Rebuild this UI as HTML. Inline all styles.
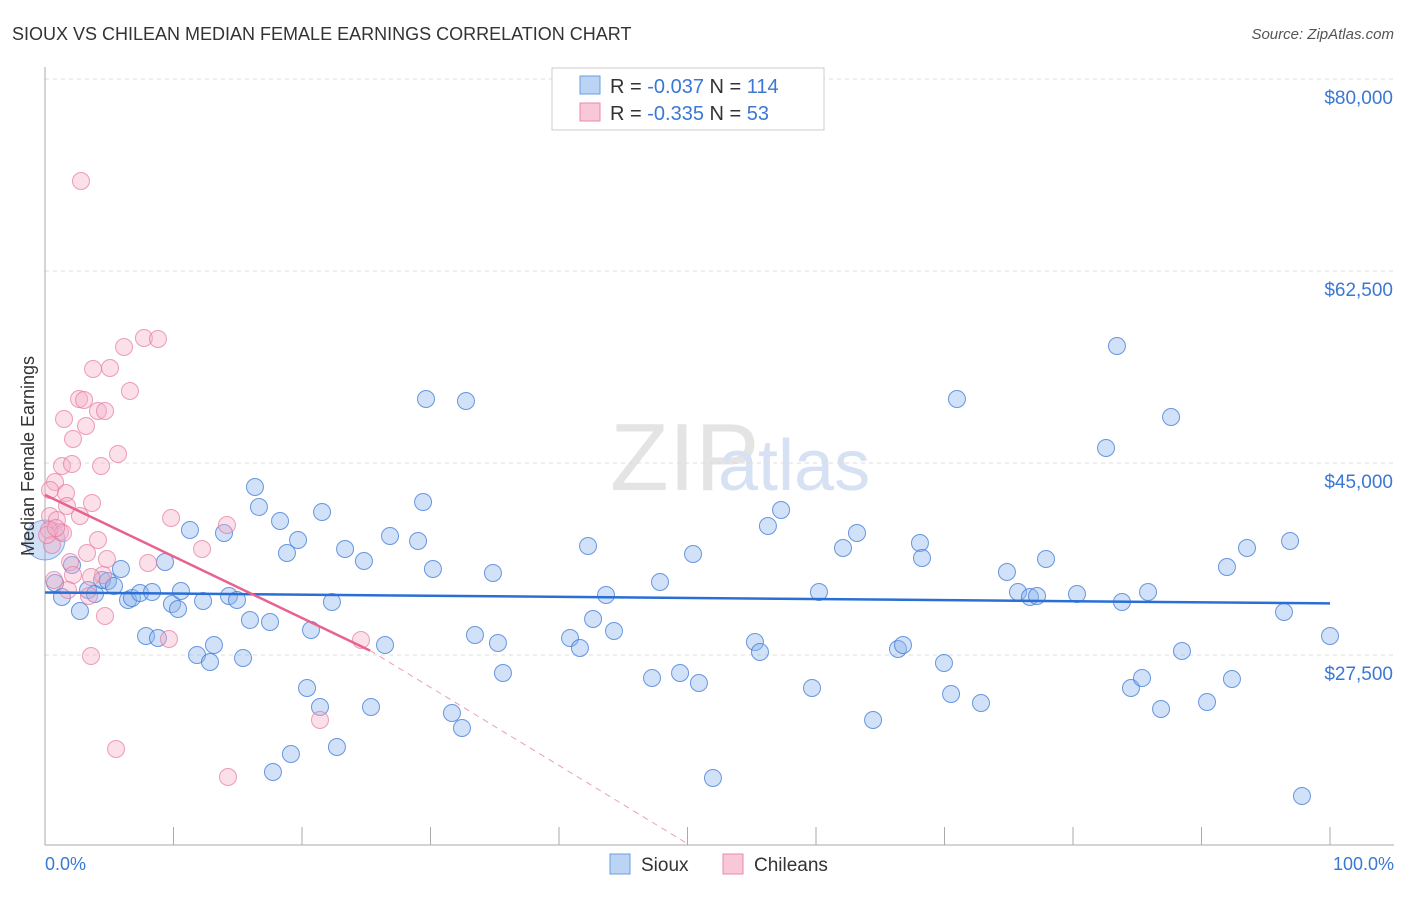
<!DOCTYPE html>
<html><head><meta charset="utf-8"><style>
body{margin:0;background:#fff;font-family:"Liberation Sans",sans-serif}
svg text{font-family:"Liberation Sans",sans-serif}
</style></head><body>
<svg id="chart" width="1406" height="892" xmlns="http://www.w3.org/2000/svg">
<text x="12" y="40" font-size="18" fill="#333">SIOUX VS CHILEAN MEDIAN FEMALE EARNINGS CORRELATION CHART</text>
<text x="1394" y="39" font-size="15" fill="#555" text-anchor="end" font-style="italic">Source: ZipAtlas.com</text>
<text x="610" y="490" font-size="96" fill="#e4e4e4" font-family="Liberation Serif">ZIP</text>
<text x="718" y="490" font-size="72" fill="#d6e2f3">atlas</text>
<g id="grid"></g>
<g id="axes"></g>
<g id="pts"></g>
<g id="lines"></g>
<text transform="translate(34,456) rotate(-90)" font-size="18" fill="#333" text-anchor="middle">Median Female Earnings</text>
<text x="45" y="870" font-size="18" fill="#3a78d4">0.0%</text>
<text x="1394" y="870" font-size="18" fill="#3a78d4" text-anchor="end">100.0%</text>
<g>
<rect x="552" y="68" width="272" height="62" fill="#fff" stroke="#ccc"/>
<rect x="580" y="76" width="20" height="18" fill="#bcd4f4" stroke="#6a9be0"/>
<rect x="580" y="103" width="20" height="18" fill="#f9c8d8" stroke="#e88aa8"/>
<text x="610" y="93" font-size="20" fill="#333">R = <tspan fill="#3a78d4">-0.037</tspan>   N = <tspan fill="#3a78d4">114</tspan></text>
<text x="610" y="120" font-size="20" fill="#333">R = <tspan fill="#3a78d4">-0.335</tspan>   N =  <tspan fill="#3a78d4">53</tspan></text>
</g>
<g>
<rect x="610" y="854" width="20" height="20" fill="#bcd4f4" stroke="#6a9be0"/>
<text x="641" y="871" font-size="19" fill="#333">Sioux</text>
<rect x="723" y="854" width="20" height="20" fill="#f9c8d8" stroke="#e88aa8"/>
<text x="754" y="871" font-size="19" fill="#333">Chileans</text>
</g>
</svg>
<script>
const yTicks=[80000,62500,45000,27500];
const yTickLabels=["$80,000","$62,500","$45,000","$27,500"];
const xTicks=[0,10,20,30,40,50,60,70,80,90,100];
const siouxPx=[[55,583],[62,597],[72,565],[80,611],[88,590],[95,594],[102,580],[108,581],[114,586],[121,569],[128,600],[132,598],[140,593],[146,636],[152,592],[158,638],[165,562],[172,604],[178,609],[181,591],[190,530],[197,655],[203,601],[210,662],[214,645],[224,533],[229,596],[237,600],[243,658],[250,620],[255,487],[259,507],[270,622],[273,772],[280,521],[287,553],[291,754],[298,540],[307,688],[311,630],[320,707],[322,512],[332,602],[337,747],[345,549],[364,561],[371,707],[385,645],[390,536],[418,541],[423,502],[426,399],[433,569],[452,713],[462,728],[466,401],[475,635],[493,573],[498,643],[503,673],[570,638],[580,648],[588,546],[593,619],[606,595],[614,631],[652,678],[660,582],[680,673],[693,554],[699,683],[713,778],[755,642],[760,652],[768,526],[781,510],[812,688],[819,592],[843,548],[857,533],[873,720],[898,649],[903,645],[920,543],[922,558],[944,663],[951,694],[957,399],[981,703],[1007,572],[1018,592],[1030,597],[1037,596],[1046,559],[1077,594],[1106,448],[1117,346],[1122,602],[1131,688],[1142,678],[1148,592],[1161,709],[1171,417],[1182,651],[1207,702],[1227,567],[1232,679],[1247,548],[1284,612],[1290,541],[1302,796],[1330,636]];
const chileanPx=[[81,181],[144,338],[158,339],[124,347],[93,369],[110,368],[130,391],[79,399],[84,400],[98,411],[105,411],[64,419],[86,426],[73,439],[118,454],[62,466],[72,464],[101,466],[55,482],[66,493],[50,490],[92,503],[67,506],[80,516],[50,516],[57,520],[60,532],[63,533],[49,530],[52,545],[171,518],[227,525],[98,540],[202,549],[87,553],[107,559],[148,563],[70,562],[73,575],[103,575],[91,577],[54,580],[68,590],[89,596],[105,616],[169,639],[361,640],[91,656],[320,720],[116,749],[228,777],[47,535],[56,528]];
// convert read positions to data values (percent, dollars)
const toVal=p=>[+(((p[0]-45)/12.85).toFixed(2)),Math.round(80000-(p[1]-79)*17500/192)];
const siouxX=siouxPx.map(p=>toVal(p)[0]), siouxY=siouxPx.map(p=>toVal(p)[1]);
const chileX=chileanPx.map(p=>toVal(p)[0]), chileY=chileanPx.map(p=>toVal(p)[1]);
const siouxTrend=[[0,33200],[100,32200]];
const chileTrend=[[0,42100],[25.3,27900],[50,10300]];
const sx=v=>45+v*12.85, sy=v=>79+(80000-v)*192/17500;
const NS="http://www.w3.org/2000/svg";
function mk(tag,at,parent){const e=document.createElementNS(NS,tag);for(const k in at)e.setAttribute(k,at[k]);parent.appendChild(e);return e;}
const grid=document.getElementById('grid'),axes=document.getElementById('axes'),pts=document.getElementById('pts'),lines=document.getElementById('lines');
yTicks.forEach((t,i)=>{
 const g=mk('line',{x1:45,x2:1394,y1:sy(t),y2:sy(t),stroke:'#ddd','stroke-dasharray':'4,4'},grid);
 
 
 const tx=mk('text',{x:1393,y:sy(t)+25,'font-size':19,fill:'#3a78d4','text-anchor':'end'},grid);
 tx.textContent=yTickLabels[i];
 
 
});
const ya=mk('line',{x1:45,x2:45,y1:67,y2:845,stroke:'#aaa'},axes);


const xa=mk('line',{x1:45,x2:1394,y1:845,y2:845,stroke:'#aaa'},axes);


xTicks.forEach(t=>{const l=mk('line',{x1:sx(t),x2:sx(t),y1:827,y2:845,stroke:'#aaa'},axes);
 
 });
const big=mk('circle',{cx:45,cy:540,r:20,fill:'rgba(120,165,230,0.35)',stroke:'rgba(70,130,220,0.6)'},pts);


siouxX.forEach((x,i)=>{const c=mk('circle',{cx:sx(x),cy:sy(siouxY[i]),r:8.5,fill:'rgba(140,180,235,0.4)',stroke:'rgba(60,120,215,0.75)','stroke-width':1},pts);
 
 });
chileX.forEach((x,i)=>{const c=mk('circle',{cx:sx(x),cy:sy(chileY[i]),r:8.5,fill:'rgba(245,175,200,0.4)',stroke:'rgba(230,120,160,0.7)','stroke-width':1},pts);
 
 });
const bl=mk('line',{x1:sx(siouxTrend[0][0]),y1:sy(siouxTrend[0][1]),x2:sx(siouxTrend[1][0]),y2:sy(siouxTrend[1][1]),stroke:'#2a6fd6','stroke-width':2.5},lines);


const pl=mk('line',{x1:sx(chileTrend[0][0]),y1:sy(chileTrend[0][1]),x2:sx(chileTrend[1][0]),y2:sy(chileTrend[1][1]),stroke:'#e8628f','stroke-width':2.5},lines);


const pd=mk('line',{x1:sx(chileTrend[1][0]),y1:sy(chileTrend[1][1]),x2:sx(chileTrend[2][0]),y2:sy(chileTrend[2][1]),stroke:'#e8a0b8','stroke-width':1,'stroke-dasharray':'6,5'},lines);


</script>
</body></html>
